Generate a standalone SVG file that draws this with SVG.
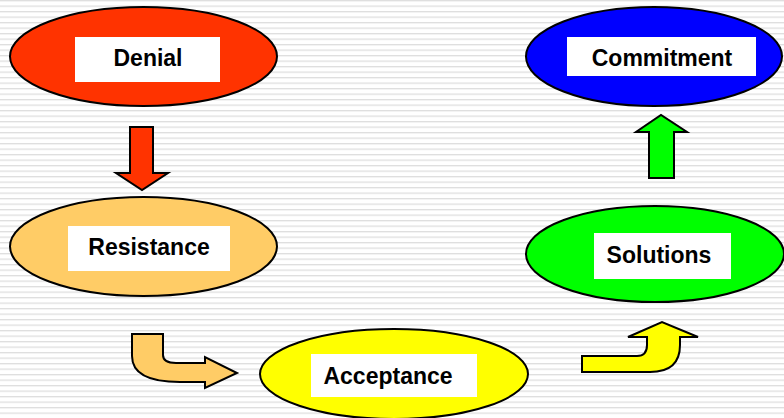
<svg xmlns="http://www.w3.org/2000/svg" width="784" height="418" viewBox="0 0 784 418">
<defs>
<pattern id="stripes" x="0" y="0" width="10" height="5.5" patternUnits="userSpaceOnUse">
<rect x="0" y="0" width="10" height="5.5" fill="#ffffff"/>
<rect x="0" y="0" width="10" height="1.3" fill="#dedede"/>
</pattern>
</defs>
<style>
.node ellipse{stroke:#000;stroke-width:2}
.box{fill:#fff}
.lbl{font-family:"Liberation Sans",Arial,sans-serif;font-weight:bold;font-size:23px;fill:#000;text-anchor:middle}
.arr{stroke:#000;stroke-width:2;stroke-linejoin:miter}
</style>
<rect width="784" height="418" fill="url(#stripes)"/>
<g id="connectors">
<path class="arr" fill="#ff3300" d="M130,127 L153,127 L153,173 L168,173 L142,190 L116,173 L130,173 Z"/>
<path class="arr" fill="#ffcc66" d="M132,334 L163,334 L163,355 Q163,363 176,363 L205,363 L205,357 L237,373 L205,388 L205,382 L180,382 Q132,382 132,356 Z"/>
<path class="arr" fill="#ffff00" d="M582,356 L637,356 Q647,356 647,345 L647,337 L628,337 L662,322 L698,337 L680,337 L680,345 Q680,372 650,372 L582,372 Z"/>
<path class="arr" fill="#00ff00" d="M649,178 L674,178 L674,132 L687,132 L661,115 L636,132 L649,132 Z"/>
</g>
<g id="denial" class="node">
<ellipse cx="143.5" cy="56.5" rx="133.5" ry="49.5" fill="#ff3300"/>
<rect class="box" x="75" y="37" width="145" height="45"/>
<text class="lbl" x="148" y="66">Denial</text>
</g>
<g id="resistance" class="node">
<ellipse cx="143.5" cy="246.5" rx="133.5" ry="49.5" fill="#ffcc66"/>
<rect class="box" x="68" y="226" width="162" height="45"/>
<text class="lbl" x="149" y="255">Resistance</text>
</g>
<g id="acceptance" class="node">
<ellipse cx="394" cy="374" rx="134" ry="45" fill="#ffff00"/>
<rect class="box" x="311" y="354" width="166" height="43"/>
<text class="lbl" x="388" y="384">Acceptance</text>
</g>
<g id="solutions" class="node">
<ellipse cx="655" cy="254" rx="129" ry="48" fill="#00ff00"/>
<rect class="box" x="594" y="233" width="137" height="46"/>
<text class="lbl" x="659" y="263">Solutions</text>
</g>
<g id="commitment" class="node">
<ellipse cx="654" cy="56.5" rx="128" ry="49.5" fill="#0000ff"/>
<rect class="box" x="567" y="37" width="189" height="39"/>
<text class="lbl" x="662" y="66">Commitment</text>
</g>
</svg>
